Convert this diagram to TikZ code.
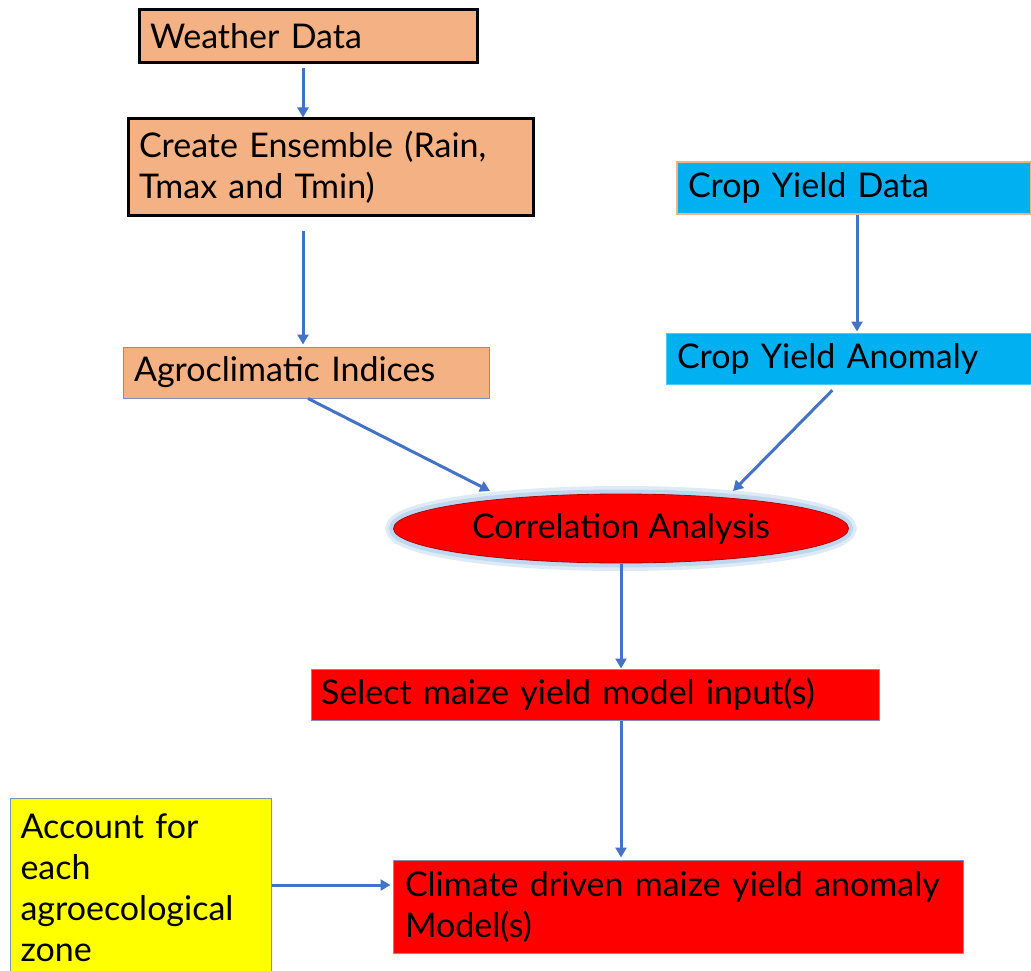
\documentclass[tikz,border=0pt]{standalone}
\usepackage{fontspec}
\setmainfont{Lato}
\usetikzlibrary{shapes.geometric,arrows.meta}
\definecolor{orfill}{HTML}{F4B183}
\definecolor{cyanfill}{HTML}{00B0F0}
\definecolor{redfill}{HTML}{FF0000}
\definecolor{yelfill}{HTML}{FFFF00}
\definecolor{arrowblue}{HTML}{4472C4}
\definecolor{thinedge}{HTML}{7F8FB8}
\definecolor{glow}{HTML}{BDD7EE}
\tikzset{
  box/.style={rectangle, inner xsep=11pt, inner ysep=0pt, align=left, font=\fontsize{34}{41}\selectfont, text=black},
  thickbox/.style={box, draw=black, line width=3pt, fill=orfill},
  orbox/.style={box, draw=thinedge, line width=1pt, fill=orfill},
  cybox/.style={box, draw=cyanfill!70!white, line width=1pt, fill=cyanfill},
  cyboxo/.style={box, draw=orfill, line width=2pt, fill=cyanfill},
  rdbox/.style={box, draw=thinedge, line width=1pt, fill=redfill},
  ylbox/.style={box, draw=thinedge, line width=1pt, fill=yelfill},
  conn/.style={draw=arrowblue, line width=3pt, -{Triangle[length=10pt,width=11pt]}},
}
\begin{document}
\begin{tikzpicture}[x=1pt,y=-1pt]
\useasboundingbox (0,0) rectangle (1031,971);
\node[thickbox, minimum width=338pt, minimum height=53pt, text width=316pt] (wd) at (308,36.5) {Weather Data};
\node[thickbox, minimum width=405pt, minimum height=96pt, text width=383pt] (ce) at (330.5,167) {Create Ensemble (Rain,\\Tmax and Tmin)};
\node[orbox, minimum width=366pt, minimum height=51pt, text width=344pt] (ai) at (306,372.5) {Agroclimatic Indices};
\node[cyboxo, minimum width=354pt, minimum height=52pt, text width=332pt] (cd) at (854,188) {Crop Yield Data};
\node[cybox, minimum width=365pt, minimum height=51pt, text width=343pt] (ca) at (848.5,358.5) {Crop Yield Anomaly};
\node[ellipse, draw=red!70!black, line width=0.8pt, fill=redfill, minimum width=455pt, minimum height=69pt, inner sep=0pt,
      font=\fontsize{34}{41}\selectfont,
      preaction={draw=glow!50, line width=16pt},
      preaction={draw=glow, line width=9pt}] (cor) at (621,528.5) {Correlation Analysis};
\node[rdbox, minimum width=568pt, minimum height=51pt, text width=548pt, inner xsep=10pt] (sel) at (595,694.5) {Select maize yield model input(s)};
\node[rdbox, minimum width=570pt, minimum height=93pt, text width=556pt, inner xsep=7pt] (cl) at (678,906.5) {\hspace*{5pt}Climate driven maize yield anomaly\\\hspace*{5pt}Model(s)};
\node[ylbox, minimum width=261pt, minimum height=178pt, text width=241pt, inner xsep=10pt, anchor=north west, align=left] (ac) at (10,798) {Account for\\each\\agroecological\\zone};
\draw[conn, shorten <=4pt] (wd.south -| 303,0) -- (ce.north -| 303,0);
\draw[conn, shorten <=14pt, shorten >=2pt] (ce.south -| 303,0) -- (ai.north -| 303,0);
\draw[conn, shorten >=1pt] (cd.south -| 857,0) -- (ca.north -| 857,0);
\coordinate (c1) at (490,491);
\coordinate (c2) at (733,491);
\draw[conn] (ai.south -| 308,0) -- (c1);
\draw[conn, shorten <=8pt] (ca.south -| 838,0) -- (c2);
\draw[conn, shorten <=1pt] (cor.south -| 621,0) -- (sel.north -| 621,0);
\draw[conn, shorten >=2pt] (sel.south -| 621,0) -- (cl.north -| 621,0);
\draw[conn, shorten >=2pt] (ac.east |- 0,885) -- (cl.west |- 0,885);
\end{tikzpicture}
\end{document}
